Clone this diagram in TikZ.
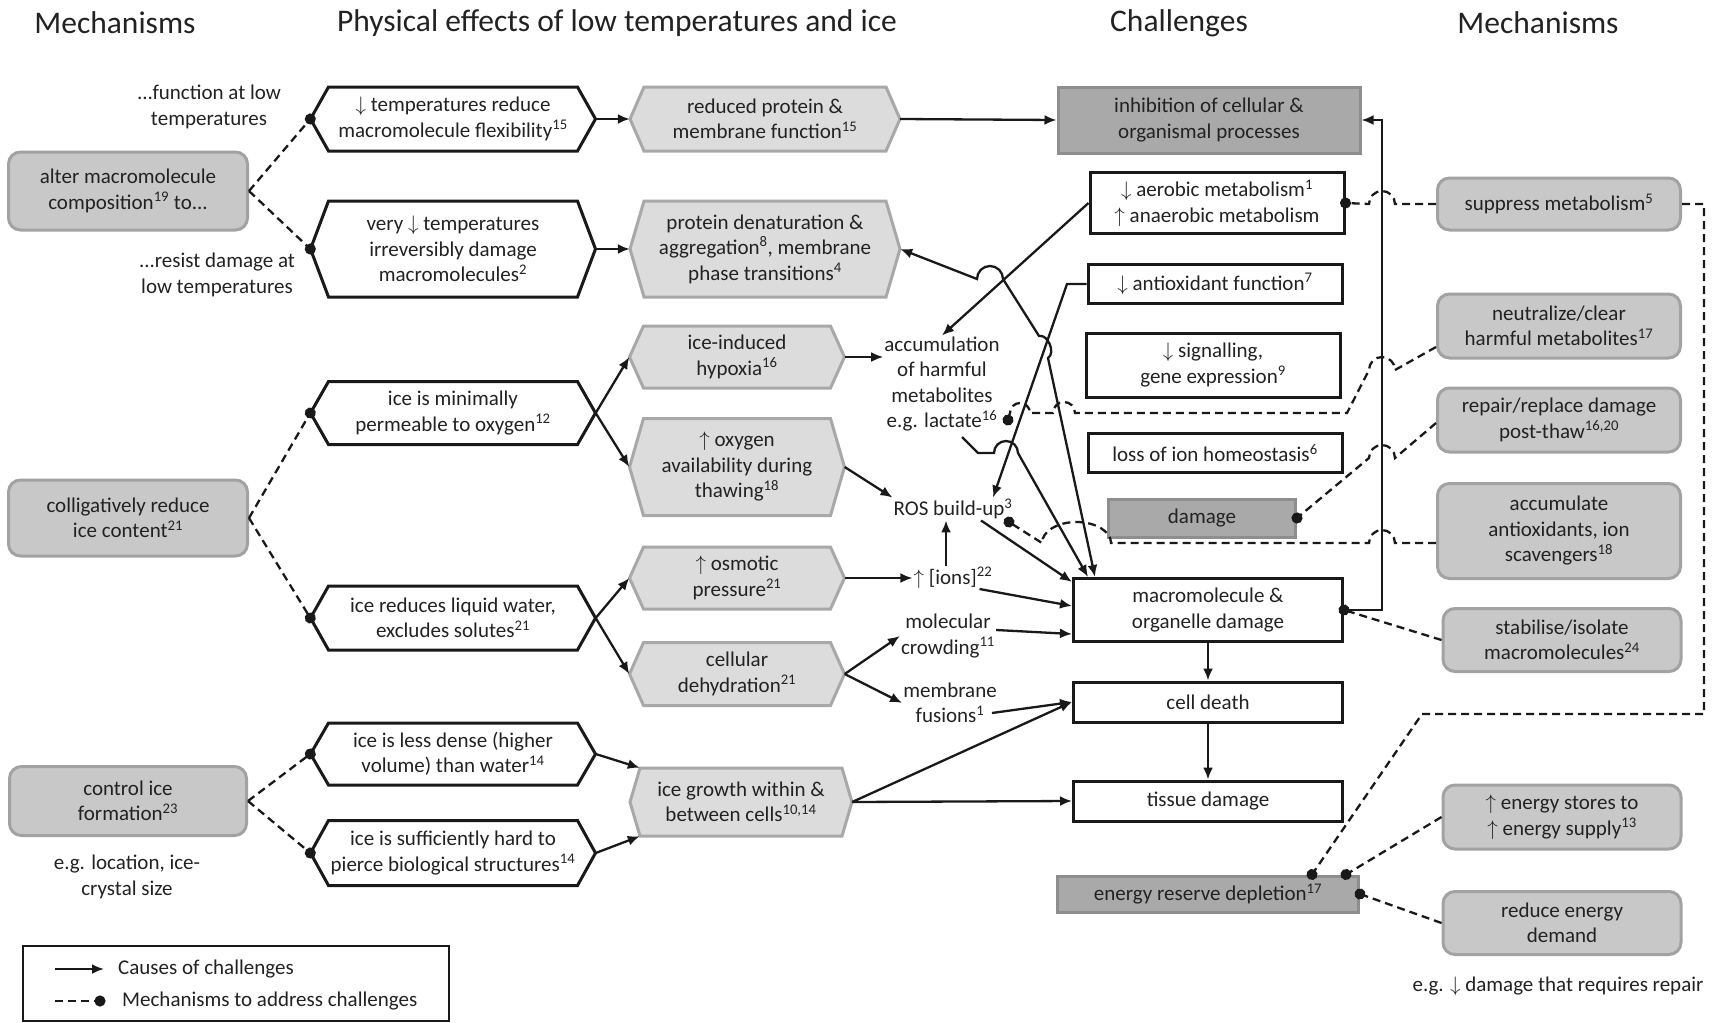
\RequirePackage{fix-cm}
\documentclass[tikz,border=0pt]{standalone}
\usepackage{fontspec}
\setmainfont{Carlito}
\usepackage{tikz}
\usetikzlibrary{arrows.meta,calc}
\definecolor{txt}{HTML}{222222}
\definecolor{mechfill}{HTML}{C8C8C8}
\definecolor{mechedge}{HTML}{A2A2A2}
\definecolor{hexfill}{HTML}{DCDCDC}
\definecolor{hexedge}{HTML}{A8A8A8}
\definecolor{darkfill}{HTML}{A9A9A9}
\definecolor{darkedge}{HTML}{8E8E8E}
\tikzset{every node/.style={font=\fontsize{21}{25.5}\selectfont,text=txt,align=center,inner sep=1pt}}
\tikzset{head/.style={font=\fontsize{31.5}{37}\selectfont}}
\tikzset{mech/.style={draw=mechedge,fill=mechfill,line width=3pt,rounded corners=12pt,inner sep=0pt}}
\tikzset{chal/.style={draw=black!90,fill=white,line width=3pt,inner sep=0pt}}
\tikzset{chaldark/.style={draw=darkedge,fill=darkfill,line width=3pt,inner sep=0pt}}
\tikzset{physhex/.style={draw=black!90,fill=white,line width=3pt}}
\tikzset{greyhex/.style={draw=hexedge,fill=hexfill,line width=3pt}}
\tikzset{hexlabel/.style={rectangle,inner sep=0pt}}
\tikzset{cause/.style={line width=2.3pt,draw=black!90,-{Latex[length=12pt,width=10pt]}}}
\tikzset{causeboth/.style={line width=2.3pt,draw=black!90,{Latex[length=12pt,width=10pt]}-{Latex[length=12pt,width=10pt]}}}
\tikzset{mechlink/.style={line width=2.3pt,draw=black!90,dash pattern=on 8pt off 5pt,-{Circle[length=11pt]},shorten >=-5.5pt}}
\newcommand{\hexnode}[8]{%
  \draw[#1] ({#4-#6/2},#5) -- ({#4-#6/2+#2},{#5-#7/2}) -- ({#4+#6/2-#2},{#5-#7/2}) -- ({#4+#6/2},#5) -- ({#4+#6/2-#2},{#5+#7/2}) -- ({#4-#6/2+#2},{#5+#7/2}) -- cycle;
  \node[hexlabel,minimum width=#6pt,minimum height=#7pt] (#3) at (#4,#5) {#8};}

\begin{document}
\begin{tikzpicture}[x=1pt,y=-1pt]
  \useasboundingbox (0,0) rectangle (1725,1023);
  \node[head] (hmechl) at (115,23) {Mechanisms};
  \node[head] (hphys) at (617,23) {Physical effects of low temperatures and ice};
  \node[head] (hchal) at (1179,23) {Challenges};
  \node[head] (hmechr) at (1538,23) {Mechanisms};

  \node[mech,minimum width=239pt,minimum height=78pt] (alter) at (128,191) {alter macromolecule\\composition\textsuperscript{19} to...};
  \node[mech,minimum width=239pt,minimum height=76pt] (collig) at (128,518) {colligatively reduce\\ice content\textsuperscript{21}};
  \node[mech,minimum width=237pt,minimum height=69pt] (control) at (128,801) {control ice\\formation\textsuperscript{23}};
  \node (lowfn) at (209,107) {...function at low\\temperatures};
  \node (resist) at (217,275) {...resist damage at\\low temperatures};
  \node (egloc) at (127,877) {e.g. location, ice-\\crystal size};

  \hexnode{physhex}{18}{flex}{453}{119}{285}{64}{$\downarrow$ temperatures reduce\\macromolecule flexibility\textsuperscript{15}}
  \hexnode{physhex}{18}{irrev}{453}{249}{285}{96}{very $\downarrow$ temperatures\\irreversibly damage\\macromolecules\textsuperscript{2}}
  \hexnode{physhex}{18}{perm}{453}{413}{285}{63}{ice is minimally\\permeable to oxygen\textsuperscript{12}}
  \hexnode{physhex}{18}{water}{453}{618}{285}{64}{ice reduces liquid water,\\excludes solutes\textsuperscript{21}}
  \hexnode{physhex}{18}{dense}{453}{754}{285}{62}{ice is less dense (higher\\volume) than water\textsuperscript{14}}
  \hexnode{physhex}{18}{hard}{453}{853}{285}{65}{ice is sufficiently hard to\\pierce biological structures\textsuperscript{14}}

  \hexnode{greyhex}{14}{protfun}{765}{119}{270}{64}{reduced protein \&\\membrane function\textsuperscript{15}}
  \hexnode{greyhex}{14}{denat}{765}{249}{270}{96}{protein denaturation \&\\aggregation\textsuperscript{8}, membrane\\phase transitions\textsuperscript{4}}
  \hexnode{greyhex}{14}{hypox}{737}{357}{215}{62}{ice-induced\\hypoxia\textsuperscript{16}}
  \hexnode{greyhex}{14}{oxy}{737}{467}{215}{97}{$\uparrow$ oxygen\\availability during\\thawing\textsuperscript{18}}
  \hexnode{greyhex}{14}{osmo}{737}{578}{215}{62}{$\uparrow$ osmotic\\pressure\textsuperscript{21}}
  \hexnode{greyhex}{14}{dehyd}{737}{674}{215}{63}{cellular\\dehydration\textsuperscript{21}}
  \hexnode{greyhex}{10}{growth}{741}{802}{222}{68}{ice growth within \&\\between cells\textsuperscript{10,14}}

  \node (accum) at (942,384) {accumulation\\of harmful\\metabolites\\e.g. lactate\textsuperscript{16}};
  \node (ros) at (953,509) {ROS build-up\textsuperscript{3}};
  \node (ions) at (953,578) {$\uparrow$ [ions]\textsuperscript{22}};
  \node (crowd) at (948,636) {molecular\\crowding\textsuperscript{11}};
  \node (fusion) at (950,703) {membrane\\fusions\textsuperscript{1}};
  \coordinate (lactout) at (962,437);
  \coordinate (lactdot) at (1008,420);
  \coordinate (rosdot) at (1009,522);

  \node[chaldark,minimum width=302pt,minimum height=66pt] (inhib) at (1209,120) {inhibition of cellular \&\\organismal processes};
  \node[chal,minimum width=254pt,minimum height=61pt] (aerob) at (1217,203) {$\downarrow$ aerobic metabolism\textsuperscript{1}\\$\uparrow$ anaerobic metabolism};
  \node[chal,minimum width=254pt,minimum height=39pt] (antiox) at (1215,284) {$\downarrow$ antioxidant function\textsuperscript{7}};
  \node[chal,minimum width=254pt,minimum height=64pt] (signalbox) at (1213,365) {$\downarrow$ signalling,\\gene expression\textsuperscript{9}};
  \node[chal,minimum width=254pt,minimum height=39pt] (ionhom) at (1215,453) {loss of ion homeostasis\textsuperscript{6}};
  \node[chaldark,minimum width=187pt,minimum height=38pt] (damage) at (1202,518) {damage};
  \node[chal,minimum width=269pt,minimum height=63pt] (macro) at (1208,610) {macromolecule \&\\organelle damage};
  \node[chal,minimum width=269pt,minimum height=40pt] (death) at (1208,702) {cell death};
  \node[chal,minimum width=269pt,minimum height=40pt] (tissue) at (1208,801) {tissue damage};
  \node[chaldark,minimum width=301pt,minimum height=36pt] (energy) at (1208,894) {energy reserve depletion\textsuperscript{17}};

  \node[mech,minimum width=243pt,minimum height=52pt] (suppress) at (1559,204) {suppress metabolism\textsuperscript{5}};
  \node[mech,minimum width=243pt,minimum height=64pt] (neutral) at (1559,326) {neutralize/clear\\harmful metabolites\textsuperscript{17}};
  \node[mech,minimum width=243pt,minimum height=64pt] (repair) at (1559,420) {repair/replace damage\\post-thaw\textsuperscript{16,20}};
  \node[mech,minimum width=243pt,minimum height=95pt] (antiacc) at (1559,531) {accumulate\\antioxidants, ion\\scavengers\textsuperscript{18}};
  \node[mech,minimum width=238pt,minimum height=63pt] (stabil) at (1562,640) {stabilise/isolate\\macromolecules\textsuperscript{24}};
  \node[mech,minimum width=238pt,minimum height=64pt] (stores) at (1562,817) {$\uparrow$ energy stores to\\$\uparrow$ energy supply\textsuperscript{13}};
  \node[mech,minimum width=238pt,minimum height=63pt] (demand) at (1562,923) {reduce energy\\demand};
  \node (egrep) at (1558,986) {e.g. $\downarrow$ damage that requires repair};

  \draw[mechlink] (alter.east) -- (flex.west);
  \draw[mechlink] (alter.east) -- (irrev.west);
  \draw[mechlink] (collig.east) -- (perm.west);
  \draw[mechlink] (collig.east) -- (water.west);
  \draw[mechlink] (control.east) -- (dense.west);
  \draw[mechlink] (control.east) -- (hard.west);

  \draw[cause] (flex.east) -- (protfun.west);
  \draw[cause] (irrev.east) -- (denat.west);
  \draw[cause] (perm.east) -- (hypox.west);
  \draw[cause] (perm.east) -- (oxy.west);
  \draw[cause] (water.east) -- (osmo.west);
  \draw[cause] (water.east) -- (dehyd.west);
  \draw[cause] (dense.east) -- ($(growth.north west)+(10,0)$);
  \draw[cause] (hard.east) -- ($(growth.south west)+(10,0)$);

  \draw[cause] (protfun.east) -- (inhib.west);
  \draw[cause] (hypox.east) -- (hypox.east -| accum.west);
  \draw[cause] (oxy.east) -- (ros.north west);
  \draw[cause] (osmo.east) -- (osmo.east -| ions.west);
  \draw[cause] (dehyd.east) -- (crowd.west);
  \draw[cause] (dehyd.east) -- (fusion.west);
  \draw[cause] ($(ions.north)+(-7,0)$) -- ($(ros.south)+(-7,0)$);
  \draw[cause] ($(ros.south)+(28,0)$) -- ($(macro.north west)+(0,5)$);
  \draw[cause] ($(ions.east)+(-14,11)$) -- ($(macro.west)+(0,-4)$);
  \draw[cause] ($(crowd.east)+(0,-6)$) -- ($(macro.west)+(0,24)$);
  \draw[cause] ($(fusion.east)+(-6,10)$) -- (death.west);
  \draw[cause] (growth.east) -- (death.west);
  \draw[cause] (growth.east) -- (tissue.west);
  \draw[cause] (macro.south) -- (death.north);
  \draw[cause] (death.south) -- (tissue.north);
  \draw[cause] (macro.east) -- (1382,610) -- (1382,120) -- (inhib.east);

  \draw[cause] (aerob.west) -- (accum.north);
  \draw[cause] (antiox.west) -- (1067,284) -- ($(ros.north)+(40,0)$);
  \draw[cause] (lactout) -- (978,453) -- (994,453) arc[start angle=180,end angle=0,radius=12pt] -- ($(macro.north west)+(16,0)$);
  \draw[causeboth] (denat.east) -- (977,279) arc[start angle=180,end angle=0,radius=13pt] -- (1039,336) to[bend left=80] (1048,358) -- ($(macro.north west)+(23,0)$);

  \draw[mechlink] (suppress.west) -- (1395,204) arc[start angle=0,end angle=180,radius=13pt] -- (aerob.east);
  \draw[mechlink] ($(neutral.west)+(0,21)$) -- (1395,370) arc[start angle=0,end angle=180,radius=13pt] -- (1347,413) -- (1075,413) arc[start angle=0,end angle=180,radius=11pt] -- (1030,413) arc[start angle=0,end angle=180,radius=10pt] -- (lactdot);
  \draw[mechlink] ($(repair.west)+(0,3)$) -- (1395,458) arc[start angle=0,end angle=180,radius=13pt] -- (damage.east);
  \draw[mechlink] ($(antiacc.west)+(0,12)$) -- (1395,543) arc[start angle=0,end angle=180,radius=13pt] -- (1111,543) arc[start angle=0,end angle=180,x radius=34.5pt,y radius=21pt] -- (rosdot);
  \draw[mechlink] (stabil.west) -- (macro.east);
  \draw[mechlink] (stores.west) -- ($(energy.north east)+(-14,0)$);
  \draw[mechlink] (demand.west) -- (energy.east);
  \draw[mechlink] (suppress.east) -- (1704,204) -- (1704,714) -- (1422,714) -- ($(energy.north east)+(-48,0)$);

  \node[draw=black!90,line width=2pt,minimum width=426pt,minimum height=75pt,inner sep=0pt] (legend) at (236,983.5) {};
  \coordinate (lgA1) at (55,969);
  \coordinate (lgA2) at (104,969);
  \draw[cause] (lgA1) -- (lgA2);
  \node[anchor=west] (lgcause) at (117,969) {Causes of challenges};
  \coordinate (lgB1) at (55,1001);
  \coordinate (lgB2) at (100,1001);
  \draw[mechlink] (lgB1) -- (lgB2);
  \node[anchor=west] (lgmech) at (121,1001) {Mechanisms to address challenges};
\end{tikzpicture}
\end{document}
